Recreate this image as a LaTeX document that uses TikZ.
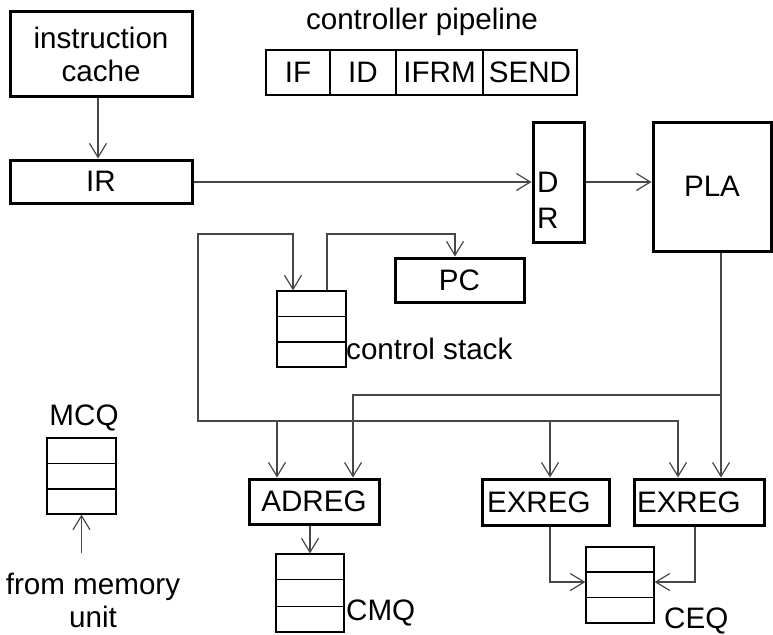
\documentclass[tikz,border=0pt]{standalone}
\usepackage{fontspec}
\setmainfont{Liberation Sans}
\usetikzlibrary{arrows.meta,calc}
\begin{document}
\begin{tikzpicture}[x=1pt,y=-1pt,
  every node/.style={font=\fontsize{29.6}{33}\selectfont, inner sep=0pt},
  tbox/.style={draw, line width=3pt, rectangle},
  pbox/.style={draw, line width=2.7pt, rectangle, minimum height=45pt},
  qbox/.style={draw, line width=1.2pt, rectangle},
  qline/.style={line width=1.2pt},
  qthick/.style={line width=2.4pt},
  wire/.style={line width=1.2pt, draw=black!72},
  arr/.style={-{Straight Barb[length=14pt,width=17pt]}},
  arrboth/.style={{Straight Barb[length=14pt,width=17pt]}-{Straight Barb[length=14pt,width=17pt]}}
]
\useasboundingbox (0,0) rectangle (773,634);

% boxes
\node[tbox, minimum width=182pt, minimum height=84pt, align=center] (ic) at (101,54) {instruction\\cache};
\node[tbox, minimum width=182pt, minimum height=43pt] (ir) at (101,181.5) {IR};
\node[tbox, minimum width=51pt, minimum height=120pt] (dr) at (558.5,182) {};
\node[anchor=west, align=left, font=\fontsize{29.6}{36}\selectfont] (drt) at (537,200) {D\\R};
\node[tbox, minimum width=118pt, minimum height=129pt] (pla) at (712,186.5) {PLA};
\node[tbox, minimum width=129pt, minimum height=44pt] (pc) at (459.5,280) {PC};
\node[tbox, minimum width=130pt, minimum height=45pt] (ad) at (314,501.5) {ADREG};
\node[tbox, text width=117pt, inner xsep=5pt, align=left, minimum height=46pt] (ex1) at (545.5,502) {EXREG};
\node[tbox, text width=124pt, inner xsep=3pt, align=left, minimum height=46pt] (ex2) at (699,502) {EXREG};

% controller pipeline
\node (title) at (422,22) {controller pipeline};
\node[pbox, minimum width=64pt] (pif) at (298,72.5) {IF};
\node[pbox, minimum width=66pt] (pid) at (363,72.5) {ID};
\node[pbox, minimum width=87pt] (pifrm) at (439.5,72.5) {IFRM};
\node[pbox, minimum width=94pt] (psend) at (530,72.5) {SEND};

% queues
\node[qbox, minimum width=69pt, minimum height=76pt] (cs) at (311.5,329) {};
\draw[qline] ($(cs.north west)!1/3!(cs.south west)$) -- ($(cs.north east)!1/3!(cs.south east)$);
\draw[qthick] ($(cs.north west)!2/3!(cs.south west)$) -- ($(cs.north east)!2/3!(cs.south east)$);
\node[anchor=west] (cst) at (346,349) {control stack};

\node[qbox, minimum width=69pt, minimum height=76pt] (mcq) at (81.5,476) {};
\draw[qline] ($(mcq.north west)!1/3!(mcq.south west)$) -- ($(mcq.north east)!1/3!(mcq.south east)$);
\draw[qthick] ($(mcq.north west)!2/3!(mcq.south west)$) -- ($(mcq.north east)!2/3!(mcq.south east)$);
\node (mcqt) at (84,418) {MCQ};
\node[align=center] (memt) at (93,600) {from memory\\unit};

\node[qbox, minimum width=68pt, minimum height=78pt] (cmq) at (310,593) {};
\draw[qline] ($(cmq.north west)!1/3!(cmq.south west)$) -- ($(cmq.north east)!1/3!(cmq.south east)$);
\draw[qline] ($(cmq.north west)!2/3!(cmq.south west)$) -- ($(cmq.north east)!2/3!(cmq.south east)$);
\node[anchor=west] (cmqt) at (346,613) {CMQ};

\node[qbox, minimum width=68pt, minimum height=76pt] (ceq) at (620,585) {};
\draw[qthick] ($(ceq.north west)!1/3!(ceq.south west)$) -- ($(ceq.north east)!1/3!(ceq.south east)$);
\draw[qline] ($(ceq.north west)!2/3!(ceq.south west)$) -- ($(ceq.north east)!2/3!(ceq.south east)$);
\node[anchor=west] (ceqt) at (664,621) {CEQ};

% helper coordinates
\coordinate (x98) at (98,0);
\coordinate (y182) at (0,182);
\coordinate (x293) at (293,0);
\coordinate (x327) at (327,0);
\coordinate (busTL) at (198,234);
\coordinate (busR) at (678,421);
\coordinate (xA) at (277,421);
\coordinate (xE1) at (550,421);
\coordinate (pcTop) at (455,234);
\coordinate (xP) at (721,0);
\coordinate (plaBus) at (721,395);
\coordinate (xA2) at (353,0);
\coordinate (x310) at (310,0);
\coordinate (x550) at (550,0);
\coordinate (x695) at (695,0);
\coordinate (yQ) at (0,582);
\coordinate (mem) at (81.5,553);

% connectors
\draw[wire,arr] (x98 |- ic.south) -- (x98 |- ir.north);
\draw[wire,arr] (y182 -| ir.east) -- (y182 -| dr.west);
\draw[wire,arr] (y182 -| dr.east) -- (y182 -| pla.west);
\draw[wire,arrboth] (x293 |- cs.north) |- (busTL) |- (busR) -- (busR |- ex2.north);
\draw[wire,arr] (xA) -- (xA |- ad.north);
\draw[wire,arr] (xE1) -- (xE1 |- ex1.north);
\draw[wire,arr] (x327 |- cs.north) |- (pcTop) -- (pcTop |- pc.north);
\draw[wire,arr] (xP |- pla.south) -- (xP |- ex2.north);
\draw[wire,arr] (plaBus) -| (xA2 |- ad.north);
\draw[wire,arr] (x310 |- ad.south) -- (x310 |- cmq.north);
\draw[wire,arr] (x550 |- ex1.south) |- (yQ -| ceq.west);
\draw[wire,arr] (x695 |- ex2.south) |- (yQ -| ceq.east);
\draw[wire,arr] (mem) -- (mem |- mcq.south);
\end{tikzpicture}
\end{document}
